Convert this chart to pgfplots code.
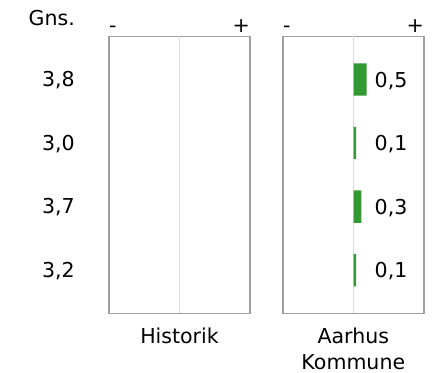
\documentclass[border=0pt]{standalone}
\usepackage{fontspec}
\setmainfont{DejaVu Sans}
\usepackage{pgfplots}
\pgfplotsset{compat=1.18}
\definecolor{boxgray}{HTML}{A0A0A0}
\definecolor{midline}{HTML}{D8D8F0}
\definecolor{bargreen}{HTML}{339933}

\begin{document}
\begin{tikzpicture}[font=\fontsize{20.6}{26}\selectfont]
\path[use as bounding box] (0,0) rectangle (432bp,373bp);
\pgfplotsset{
  panel/.style={
    scale only axis, width=141bp, height=277bp,
    xmin=-2.7, xmax=2.7, ymin=-0.68, ymax=3.68, y dir=reverse,
    xtick=\empty, ytick=\empty,
    axis line style={boxgray, line width=1.3bp},
    extra x ticks={0}, extra x tick labels={},
    extra x tick style={grid=major, major grid style={midline, line width=0.9bp}, major tick length=0pt},
  },
}
\tikzset{
  vlabel/.style={anchor=base west, inner sep=0pt, xshift=21bp, yshift=-7.5bp},
  glabel/.style={anchor=base east, inner sep=0pt, yshift=-7.5bp},
}

% Historik (empty panel)
\begin{axis}[panel, at={(109bp,59.7bp)}, anchor=south west]
\end{axis}

% Aarhus Kommune
\begin{axis}[panel, at={(283bp,59.7bp)}, anchor=south west]
  \addplot[xbar, bar width=0.51, fill=bargreen, draw=none]
    coordinates {(0.5,0) (0.1,1) (0.3,2) (0.1,3)};
  \node[vlabel] at (axis cs:0,0) {0,5};
  \node[vlabel] at (axis cs:0,1) {0,1};
  \node[vlabel] at (axis cs:0,2) {0,3};
  \node[vlabel] at (axis cs:0,3) {0,1};
\end{axis}

% averages
\node[glabel] at (75bp,293.8bp) {3,8};
\node[glabel] at (75bp,230.2bp) {3,0};
\node[glabel] at (75bp,166.6bp) {3,7};
\node[glabel] at (75bp,103.0bp) {3,2};

\node[anchor=base east, inner sep=0pt] at (75bp,347bp) {Gns.};
\node[anchor=base west, inner sep=0pt] at (109bp,340bp) {-};
\node[anchor=base east, inner sep=0pt] at (250bp,340bp) {+};
\node[anchor=base west, inner sep=0pt] at (283bp,340bp) {-};
\node[anchor=base east, inner sep=0pt] at (424bp,340bp) {+};
\node[anchor=base, inner sep=0pt] at (179.5bp,29.7bp) {Historik};
\node[anchor=base, inner sep=0pt] at (353.3bp,29.7bp) {Aarhus};
\node[anchor=base, inner sep=0pt] at (353.3bp,3.5bp) {Kommune};
\end{tikzpicture}
\end{document}
